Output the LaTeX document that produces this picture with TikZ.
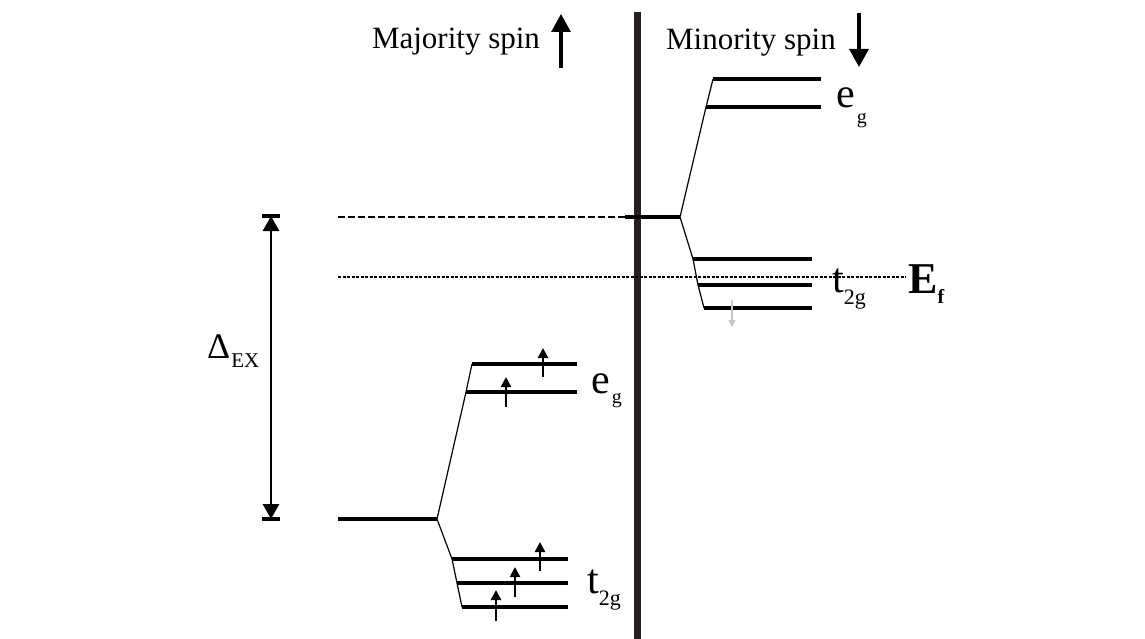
\documentclass[tikz,border=0pt]{standalone}
\usepackage{fontspec}
\setmainfont{Liberation Serif}
\usepackage{xcolor}
\usetikzlibrary{arrows.meta, positioning}

\definecolor{divider}{RGB}{40,30,32}
\newcommand{\fs}[1]{\fontsize{#1}{#1}\selectfont}

\begin{document}
\begin{tikzpicture}[x=1pt, y=-1pt,
    level/.style={line width=3.3pt},
    split/.style={line width=1.2pt},
    spinup/.style={line width=2.3pt, -{Triangle[width=10pt,length=10pt]}},
    bigspin/.style={line width=3.2pt, -{Triangle[width=19pt,length=18pt]}},
    lab/.style={anchor=base west, inner sep=0pt}]
    \useasboundingbox (0,0) rectangle (1145,639);

    % Divider between the two spin channels
    \coordinate (divtop) at (637,12);
    \coordinate (divbot) at (637,639);
    \draw[divider, line width=7pt] (divtop) -- (divbot);

    % Headings
    \node[anchor=base, font=\fs{31}] (majlab) at (456,49) {Majority spin};
    \coordinate (majtail) at (561,68);
    \coordinate (majtip) at (561,14);
    \draw[bigspin] (majtail) -- (majtip);

    \node[anchor=base, font=\fs{31}] (minlab) at (751,50) {Minority spin};
    \coordinate (mintail) at (859,13);
    \coordinate (mintip) at (859,67);
    \draw[bigspin] (mintail) -- (mintip);

    % Majority levels
    \coordinate (aeg1) at (472,364); \coordinate (aeg1e) at (577,364);
    \coordinate (aeg2) at (466,392); \coordinate (aeg2e) at (577,392);
    \coordinate (abase0) at (338,519); \coordinate (abase) at (437,519);
    \coordinate (at1) at (452,559); \coordinate (at1e) at (568,559);
    \coordinate (at2) at (457,583); \coordinate (at2e) at (568,583);
    \coordinate (at3) at (462,607); \coordinate (at3e) at (568,607);

    \draw[level] (aeg1) -- (aeg1e);
    \draw[level] (aeg2) -- (aeg2e);
    \draw[level] (abase0) -- (abase);
    \draw[level] (at1) -- (at1e);
    \draw[level] (at2) -- (at2e);
    \draw[level] (at3) -- (at3e);
    \draw[split] (aeg1) -- (aeg2) -- (abase) -- (at1) -- (at2) -- (at3);

    % Minority levels
    \coordinate (beg1) at (713,79); \coordinate (beg1e) at (821,79);
    \coordinate (beg2) at (706,107); \coordinate (beg2e) at (821,107);
    \coordinate (bbase0) at (338,217); \coordinate (bbasem) at (625,217);
    \coordinate (bbase) at (680,217);
    \coordinate (bt1) at (693,259); \coordinate (bt1e) at (812,259);
    \coordinate (bt2) at (698,285); \coordinate (bt2e) at (812,285);
    \coordinate (bt3) at (704,308); \coordinate (bt3e) at (812,308);

    \draw[line width=2.8pt, dash pattern=on 7pt off 3pt] (bbase0) -- (bbasem);
    \draw[level] (bbasem) -- (bbase);
    \draw[level] (beg1) -- (beg1e);
    \draw[level] (beg2) -- (beg2e);
    \draw[level] (bt1) -- (bt1e);
    \draw[level] (bt2) -- (bt2e);
    \draw[level] (bt3) -- (bt3e);
    \draw[split] (beg1) -- (beg2) -- (bbase) -- (bt1) -- (bt2) -- (bt3);

    % Fermi level
    \coordinate (efl) at (338,277);
    \coordinate (efr) at (906,277);
    \draw[line width=1.3pt, dash pattern=on 3pt off 1.5pt] (efl) -- (efr);

    % Exchange splitting
    \coordinate (dtop) at (271,216);
    \coordinate (dbot) at (271,519);
    \draw[line width=2.8pt, {Triangle[width=16pt,length=15pt]}-{Triangle[width=16pt,length=15pt]}] (dtop) -- (dbot);
    \draw[line width=3.3pt] ([xshift=-9pt]dtop) -- ([xshift=9pt]dtop);
    \draw[line width=3.3pt] ([xshift=-9pt]dbot) -- ([xshift=9pt]dbot);
    \node[lab, font=\fs{36}] (dex) at (207,358) {Δ\kern1pt\raisebox{-9pt}{\fs{21}EX}};

    % Electrons
    \foreach \x/\ya/\yb in {543/377/348, 506/407/377, 540/571/542, 515/597/567, 496/621/590}
        \draw[spinup] (\x,\ya) -- (\x,\yb);
    \draw[gray!45, line width=1.5pt, -{Triangle[width=7pt,length=7pt]}] (732,300) -- (732,327);

    % Labels
    \node[lab, font=\fs{42}] (aeglab) at (591,393) {e\kern2pt\raisebox{-10pt}{\fs{20}g}};
    \node[lab, font=\fs{42}] (atlab) at (587,593) {t\raisebox{-12pt}{\fs{22}2g}};
    \node[lab, font=\fs{42}] (beglab) at (836,108) {e\kern2pt\raisebox{-16pt}{\fs{20}g}};
    \node[lab, font=\fs{42}] (btlab) at (832,292) {t\raisebox{-12pt}{\fs{22}2g}};
    \node[lab, font=\bfseries\fs{44}] (eflab) at (908,293) {E\raisebox{-10pt}{\fs{20}f}};
\end{tikzpicture}
\end{document}
